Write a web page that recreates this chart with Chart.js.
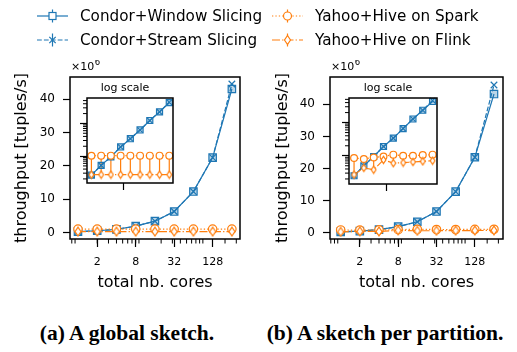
<!DOCTYPE html>
<html lang="en">
<head>
<meta charset="UTF-8">
<title>Throughput vs cores</title>
<script src="https://cdn.jsdelivr.net/npm/chart.js"></script>
<style>
    * { margin: 0; padding: 0; box-sizing: border-box; }
    body { width: 517px; height: 352px; background: #fff; position: relative; overflow: hidden; font-family: 'DejaVu Sans', sans-serif; }
    canvas { position: absolute; }
    .caption { position: absolute; top: 321px; width: 300px; height: 24px; line-height: 24px; text-align: center; white-space: nowrap;
               font-family: 'Liberation Serif', serif; font-weight: bold; font-size: 21.5px; color: #000; }
</style>
</head>
<body>
<canvas id="legend" width="517" height="56" style="left:0;top:0"></canvas>
<canvas id="mainA" width="250" height="240" style="left:0;top:60px"></canvas>
<canvas id="mainB" width="250" height="240" style="left:260px;top:60px"></canvas>
<canvas id="insetA" width="106" height="113" style="left:77px;top:78px"></canvas>
<canvas id="insetB" width="108" height="114" style="left:339px;top:78px"></canvas>
<div class="caption" style="left:-23px">(a) A global sketch.</div>
<div class="caption" style="left:235px">(b) A sketch per partition.</div>
<script>
// total number of cores (x axis)
const cores = [1, 2, 4, 8, 16, 32, 64, 128, 256];
const coreTicks = [2, 8, 32, 128];
const yTicks = [0, 10, 20, 30, 40];
const insetXTicks = [10];
const insetYTicks = [1, 10];

// throughput in millions of tuples/s -- (a) a global sketch
const windowA = [0.26, 0.52, 0.95, 1.9, 3.4, 6.3, 12.3, 22.5, 43.1];
const streamA = [0.26, 0.52, 0.95, 1.9, 3.4, 6.3, 12.3, 22.5, 44.6];
const sparkA  = [1.02, 1.03, 1.03, 1.03, 1.03, 1.03, 1.03, 1.03, 1.03];
const flinkA  = [0.27, 0.27, 0.27, 0.27, 0.27, 0.27, 0.27, 0.27, 0.27];

// (b) a sketch per partition
const windowB = [0.25, 0.5, 0.95, 1.9, 3.4, 6.6, 12.8, 23.5, 43.2];
const streamB = [0.25, 0.5, 0.95, 1.9, 3.4, 6.6, 12.8, 23.5, 46.0];
const sparkB  = [0.86, 0.80, 0.89, 0.95, 1.08, 1.0, 1.0, 1.05, 1.08];
const flinkB  = [0.27, 0.43, 0.38, 0.75, 0.60, 0.62, 0.65, 0.68, 0.71];

const BLUE = '#1f77b4';
const ORANGE = '#ff7f0e';
const FONT = "'DejaVu Sans', sans-serif";

function makeDiamond(w, h) {
    const c = document.createElement('canvas');
    c.width = w + 3; c.height = h + 3;
    const ctx = c.getContext('2d');
    const cx = c.width / 2, cy = c.height / 2;
    ctx.beginPath();
    ctx.moveTo(cx, cy - h / 2); ctx.lineTo(cx + w / 2, cy);
    ctx.lineTo(cx, cy + h / 2); ctx.lineTo(cx - w / 2, cy);
    ctx.closePath();
    ctx.fillStyle = '#fff'; ctx.fill();
    ctx.strokeStyle = ORANGE; ctx.lineWidth = 1.2; ctx.stroke();
    return c;
}

function logMinor(lo, hi) {
    const out = [];
    for (let e = -2; e <= 3; e++) {
        for (let k = 2; k <= 9; k++) {
            const v = k * Math.pow(10, e);
            if (v > lo && v < hi) out.push(v);
        }
    }
    return out;
}

function styles(r) {
    return {
        window: { borderColor: BLUE, borderWidth: 1.2, pointStyle: 'rect', pointRadius: r * 1.25,
                  pointBackgroundColor: 'rgba(31,119,180,0.3)', pointBorderColor: BLUE, pointBorderWidth: 1.2 },
        stream: { borderColor: BLUE, borderWidth: 1.2, borderDash: [4.8, 2.1], pointStyle: 'crossRot', pointRadius: r * 1.1,
                  pointBorderColor: BLUE, pointBorderWidth: 1.2 },
        spark: { borderColor: ORANGE, borderWidth: 1.2, borderDash: [1.3, 2.1], pointStyle: 'circle', pointRadius: r,
                 pointBackgroundColor: '#fff', pointBorderColor: ORANGE, pointBorderWidth: 1.2 },
        flink: { borderColor: ORANGE, borderWidth: 1.2, borderDash: [8, 2.1, 1.3, 2.1],
                 pointStyle: makeDiamond(r * 1.4, r * 2.1), pointRadius: r }
    };
}

function series(label, ys, style, order) {
    return Object.assign({
        label: label,
        data: cores.map((x, i) => ({ x: x, y: ys[i] })),
        order: order, fill: false, tension: 0, clip: false
    }, style);
}

// vertical bars between the two Yahoo+Hive series
function errorBars(lo, hi) {
    const data = [];
    cores.forEach((x, i) => {
        data.push({ x: x, y: lo[i] }, { x: x, y: hi[i] }, { x: x, y: null });
    });
    return { label: 'err', data: data, borderColor: ORANGE, borderWidth: 1.2, pointRadius: 0, order: 9, spanGaps: false, clip: false };
}

const decor = {
    id: 'decor',
    beforeDraw(chart, args, opts) {
        if (!opts.fill) return;
        const a = chart.chartArea, ctx = chart.ctx;
        ctx.save();
        ctx.fillStyle = '#fff';
        ctx.fillRect(a.left, a.top, a.right - a.left, a.bottom - a.top);
        ctx.restore();
    },
    afterDraw(chart, args, opts) {
        const ctx = chart.ctx, a = chart.chartArea, sx = chart.scales.x, sy = chart.scales.y;
        ctx.save();
        ctx.strokeStyle = '#000';
        ctx.lineWidth = 1;
        (opts.minorX || []).forEach(v => {
            if (v < sx.min || v > sx.max) return;
            const px = sx.getPixelForValue(v);
            ctx.beginPath(); ctx.moveTo(px, a.bottom); ctx.lineTo(px, a.bottom + opts.minorLen); ctx.stroke();
        });
        (opts.minorY || []).forEach(v => {
            if (v < sy.min || v > sy.max) return;
            const py = sy.getPixelForValue(v);
            ctx.beginPath(); ctx.moveTo(a.left, py); ctx.lineTo(a.left - opts.minorLen, py); ctx.stroke();
        });
        ctx.lineWidth = 1.5;
        ctx.strokeRect(a.left, a.top, a.right - a.left, a.bottom - a.top);
        if (opts.offsetText) {
            ctx.fillStyle = '#000';
            ctx.textBaseline = 'alphabetic';
            ctx.font = '11px ' + FONT;
            ctx.fillText('\u00d710', a.left + 1, a.top - 7);
            const w = ctx.measureText('\u00d710').width;
            ctx.font = '8.5px ' + FONT;
            ctx.fillText('6', a.left + 1 + w + 0.5, a.top - 12);
        }
        ctx.restore();
    }
};

function mainChart(id, s, f, st, wi, xr, yr, pad, titlePad) {
    const st4 = styles(4.2);
    return new Chart(document.getElementById(id), {
        type: 'line',
        data: {
            datasets: [
                series('Yahoo+Hive on Flink', f, st4.flink, 0),
                series('Yahoo+Hive on Spark', s, st4.spark, 1),
                series('Condor+Stream Slicing', st, st4.stream, 2),
                series('Condor+Window Slicing', wi, st4.window, 3)
            ]
        },
        plugins: [decor],
        options: {
            responsive: false, animation: false, events: [],
            layout: { padding: pad },
            plugins: {
                legend: { display: false }, tooltip: { enabled: false },
                decor: { minorX: logMinor(xr[0], xr[1]), minorLen: 4.5, offsetText: true }
            },
            scales: {
                x: {
                    type: 'logarithmic', min: xr[0], max: xr[1], bounds: 'data', offset: false,
                    afterBuildTicks: sc => { sc.ticks = coreTicks.map(v => ({ value: v })); },
                    afterFit: sc => { sc.height = 61; },
                    ticks: { callback: v => String(v), font: { size: 11, family: FONT }, color: '#000', padding: 9, maxRotation: 0, autoSkip: false },
                    grid: { drawOnChartArea: false, drawTicks: true, tickLength: 8, tickColor: '#000', tickWidth: 1.2 },
                    border: { display: false },
                    title: { display: true, text: 'total nb. cores', color: '#000', font: { size: 16, family: FONT, lineHeight: 1.2 }, padding: { top: 0, bottom: 7.4 } }
                },
                y: {
                    type: 'linear', min: yr[0], max: yr[1], bounds: 'data',
                    afterBuildTicks: sc => { sc.ticks = yTicks.map(v => ({ value: v })); },
                    afterFit: sc => { sc.width = 70; },
                    ticks: { callback: v => String(v), font: { size: 12, family: FONT }, color: '#000', padding: 8 },
                    grid: { drawOnChartArea: false, drawTicks: true, tickLength: 7, tickColor: '#000', tickWidth: 1.2 },
                    border: { display: false },
                    title: { display: true, text: 'throughput [tuples/s]', color: '#000', font: { size: 16, family: FONT, lineHeight: 1.2 }, padding: { top: titlePad, bottom: 0 } }
                }
            }
        }
    });
}

function insetChart(id, s, f, st, wi, xr, yr) {
    const st3 = styles(3.4);
    return new Chart(document.getElementById(id), {
        type: 'line',
        data: {
            datasets: [
                series('Yahoo+Hive on Flink', f, st3.flink, 0),
                series('Yahoo+Hive on Spark', s, st3.spark, 1),
                series('Condor+Stream Slicing', st, st3.stream, 2),
                series('Condor+Window Slicing', wi, st3.window, 3),
                errorBars(f, s)
            ]
        },
        plugins: [decor],
        options: {
            responsive: false, animation: false, events: [],
            layout: { padding: { left: 0, right: 10, top: 0, bottom: 0 } },
            plugins: {
                legend: { display: false }, tooltip: { enabled: false },
                title: { display: true, text: 'log scale', color: '#000', font: { size: 11, family: FONT, weight: 'normal', lineHeight: 1.2 }, padding: { top: 3.9, bottom: 2.9 } },
                decor: { fill: true, minorY: logMinor(yr[0], yr[1]), minorLen: 4 }
            },
            scales: {
                x: {
                    type: 'logarithmic', min: xr[0], max: xr[1], bounds: 'data', offset: false,
                    afterBuildTicks: sc => { sc.ticks = insetXTicks.map(v => ({ value: v })); },
                    afterFit: sc => { sc.height = 8; },
                    ticks: { callback: () => '', padding: 0 },
                    grid: { drawOnChartArea: false, drawTicks: true, tickLength: 7, tickColor: '#000', tickWidth: 1.2 },
                    border: { display: false }
                },
                y: {
                    type: 'logarithmic', min: yr[0], max: yr[1], bounds: 'data',
                    afterBuildTicks: sc => { sc.ticks = insetYTicks.map(v => ({ value: v })); },
                    afterFit: sc => { sc.width = 10; },
                    ticks: { callback: () => '', padding: 0 },
                    grid: { drawOnChartArea: false, drawTicks: true, tickLength: 7, tickColor: '#000', tickWidth: 1.2 },
                    border: { display: false }
                }
            }
        }
    });
}

mainChart('mainA', sparkA, flinkA, streamA, windowA, [0.75, 343], [-1.95, 46.7], { left: 0, right: 10, top: 17, bottom: 0 }, 12.4);
mainChart('mainB', sparkB, flinkB, streamB, windowB, [0.68, 354.6], [-1.96, 48.5], { left: 0, right: 7, top: 17, bottom: 0 }, 13.4);
insetChart('insetA', sparkA, flinkA, streamA, windowA, [0.73, 334], [0.15, 60]);
insetChart('insetB', sparkB, flinkB, streamB, windowB, [0.70, 350], [0.141, 55]);

// legend
(function () {
    const ctx = document.getElementById('legend').getContext('2d');
    const items = [
        { label: 'Condor+Window Slicing', kind: 'window', x: 37, y: 16 },
        { label: 'Condor+Stream Slicing', kind: 'stream', x: 37, y: 40 },
        { label: 'Yahoo+Hive on Spark', kind: 'spark', x: 272, y: 16 },
        { label: 'Yahoo+Hive on Flink', kind: 'flink', x: 272, y: 40 }
    ];
    const dashes = { window: [], stream: [4.8, 2.1], spark: [1.3, 2.1], flink: [8, 2.1, 1.3, 2.1] };
    const diamond = makeDiamond(6, 9);
    items.forEach(it => {
        const col = it.kind === 'window' || it.kind === 'stream' ? BLUE : ORANGE;
        const cx = it.x + 15.5;
        ctx.save();
        ctx.strokeStyle = col; ctx.lineWidth = 1.2;
        ctx.setLineDash(dashes[it.kind]);
        ctx.beginPath(); ctx.moveTo(it.x, it.y); ctx.lineTo(it.x + 31, it.y); ctx.stroke();
        ctx.setLineDash([]);
        ctx.beginPath(); ctx.moveTo(cx, it.y - 6.5); ctx.lineTo(cx, it.y + 6.5); ctx.stroke();
        if (it.kind === 'window') {
            ctx.fillStyle = '#fff'; ctx.fillRect(cx - 3.5, it.y - 3.5, 7, 7); ctx.strokeRect(cx - 3.5, it.y - 3.5, 7, 7);
        } else if (it.kind === 'stream') {
            ctx.beginPath(); ctx.moveTo(cx - 3.2, it.y - 3.2); ctx.lineTo(cx + 3.2, it.y + 3.2);
            ctx.moveTo(cx + 3.2, it.y - 3.2); ctx.lineTo(cx - 3.2, it.y + 3.2); ctx.stroke();
        } else if (it.kind === 'spark') {
            ctx.fillStyle = '#fff'; ctx.beginPath(); ctx.arc(cx, it.y, 4, 0, Math.PI * 2); ctx.fill(); ctx.stroke();
        } else {
            ctx.drawImage(diamond, cx - diamond.width / 2, it.y - diamond.height / 2);
        }
        ctx.fillStyle = '#000';
        ctx.font = '15.2px ' + FONT;
        ctx.textBaseline = 'middle';
        ctx.fillText(it.label, it.x + 43, it.y + 1);
        ctx.restore();
    });
})();
</script>
</body>
</html>
